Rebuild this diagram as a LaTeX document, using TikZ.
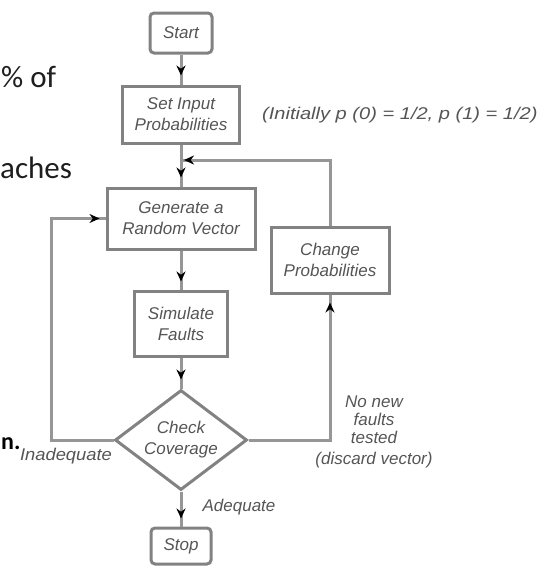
\documentclass[tikz,border=0pt]{standalone}
\usepackage{fontspec}
\setmainfont{Liberation Sans}
\newfontfamily\slidefont{Carlito}
\usetikzlibrary{shapes.geometric,arrows.meta,decorations.markings}
\definecolor{boxgray}{RGB}{130,130,130}
\definecolor{linegray}{RGB}{150,150,150}
\definecolor{textgray}{RGB}{85,85,85}
\definecolor{slidetext}{RGB}{30,30,30}
\newcommand\flowfont{\fontsize{17}{21}\selectfont\itshape}
\tikzset{
  box/.style={draw=boxgray, line width=3pt, fill=white, inner sep=1pt, align=center, font=\flowfont, text=textgray},
  term/.style={box, rounded corners=4pt},
  conn/.style={draw=linegray, line width=3pt},
  tipat/.style={postaction={decorate}, decoration={markings, mark=at position -#1 with {\arrow{Stealth[length=10pt,width=9pt,color=black]}}}},
  lbl/.style={font=\flowfont, text=textgray, align=center, inner sep=0pt},
  slide/.style={font=\slidefont\fontsize{31}{34}\selectfont, text=slidetext, inner sep=0pt},
}
\begin{document}
\begin{tikzpicture}[x=1pt,y=-1pt]
\useasboundingbox (0,0) rectangle (544,566);
% slide text fragments
\node[slide, anchor=mid west] (t1) at (1,85) {\% of};
\node[slide, anchor=mid west] (t2) at (0,176) {aches};
\node[slide, anchor=base west, font=\slidefont\bfseries\fontsize{24}{28}\selectfont, text=black] (t3) at (1,449) {n.};
% nodes
\node[term, minimum width=62pt, minimum height=40pt] (start) at (181,33) {Start};
\node[box, minimum width=117pt, minimum height=57pt] (setin) at (181,114.5) {Set Input\\Probabilities};
\node[box, minimum width=148pt, minimum height=61pt] (gen) at (181,218.5) {Generate a\\Random Vector};
\node[box, minimum width=93pt, minimum height=65pt] (sim) at (181,323.5) {Simulate\\Faults};
\node[box, minimum width=118pt, minimum height=66pt] (chg) at (330,260) {Change\\Probabilities};
\node[box, diamond, aspect=1.32, inner sep=0pt, minimum width=132pt, minimum height=100pt] (chk) at (181,440) {Check\\Coverage};
\node[term, minimum width=60pt, minimum height=36pt] (stop) at (181,546) {Stop};
% labels
\node[lbl, anchor=west] (ann) at (262,115) {\scalebox{1.18}[1]{(Initially p (0) = 1/2, p (1) = 1/2)}};
\node[lbl] (inad) at (66,456) {\scalebox{1.08}[1]{Inadequate}};
\node[lbl] (adeq) at (239,507) {Adequate};
\node[lbl, font=\fontsize{17}{18}\selectfont\itshape] (nonew) at (374,432) {No new\\faults\\tested\\[3pt](discard vector)};
% coordinates
\coordinate (lc) at (51,440);
\coordinate (rc) at (330,440);
\coordinate (jn) at (181,160);
\coordinate (rt) at (330,160);
% connectors
\draw[conn, tipat=9pt] (start) -- (setin);
\draw[conn, tipat=9pt] (setin) -- (gen);
\draw[conn, tipat=8pt] (gen) -- (sim);
\draw[conn, tipat=9pt] (sim) -- (chk);
\draw[conn, tipat=8pt] (chk) -- (stop);
\draw[conn, tipat=6pt] (chk.west) -- (lc) |- (gen.west);
\draw[conn, tipat=8pt] (chk.east) -- (rc) -- (chg.south);
\draw[conn, tipat=3pt] (chg.north) -- (rt) -- (jn);
\end{tikzpicture}
\end{document}
